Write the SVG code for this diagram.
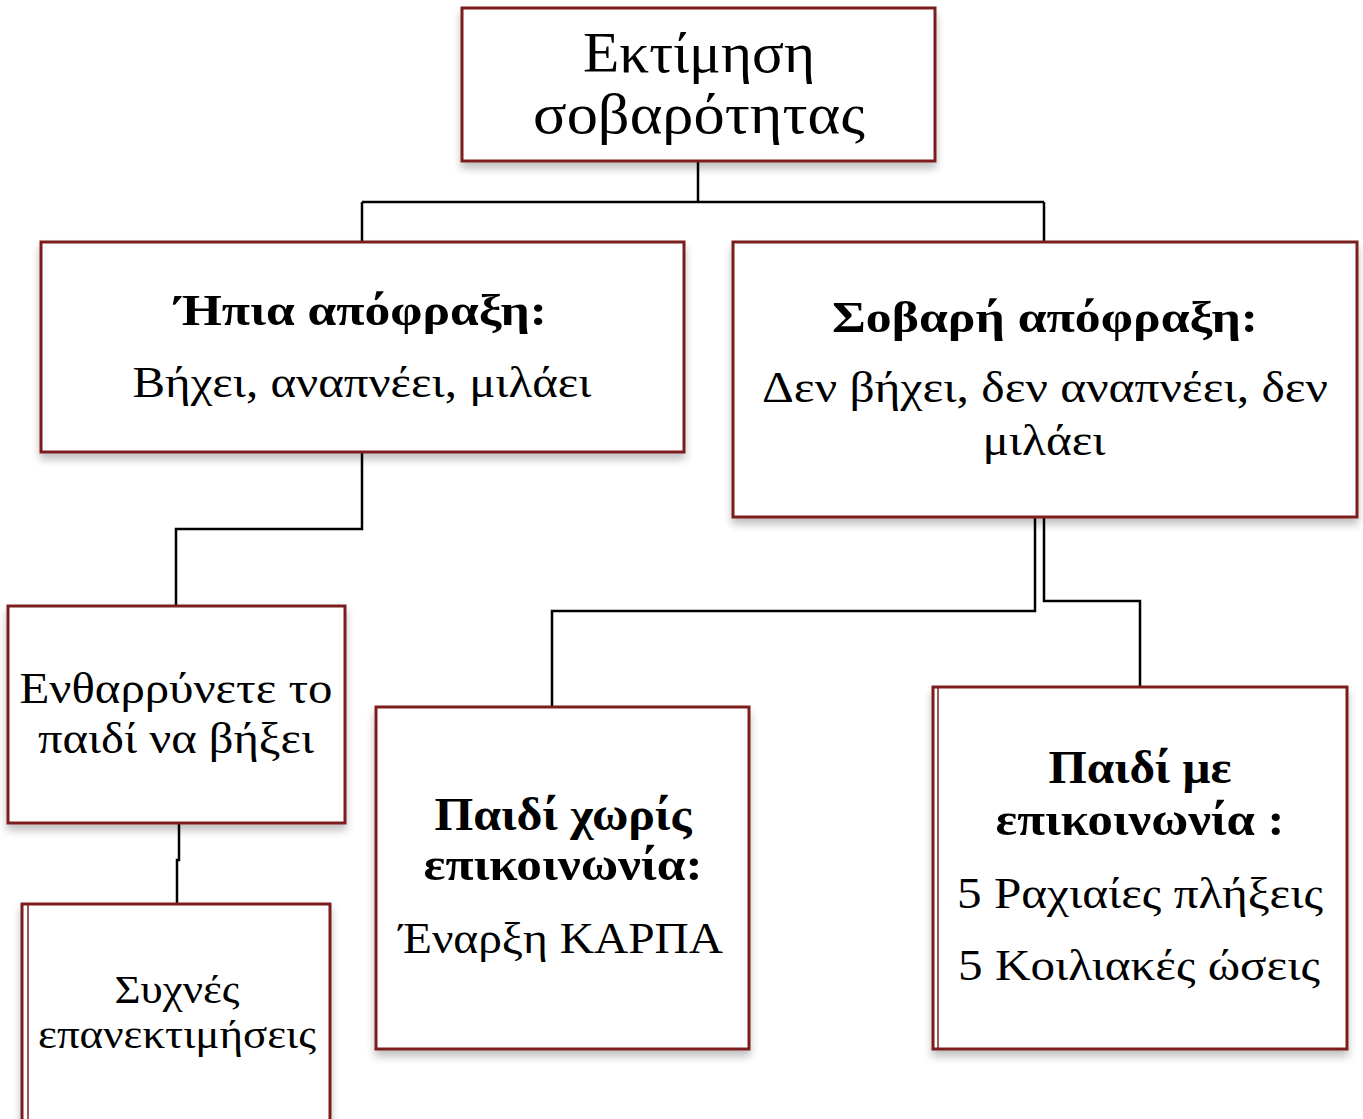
<svg xmlns="http://www.w3.org/2000/svg" width="1363" height="1119" viewBox="0 0 1363 1119">
<defs>
<filter id="sh" x="-5%" y="-5%" width="110%" height="115%">
<feGaussianBlur in="SourceAlpha" stdDeviation="4"/>
<feOffset dx="0" dy="6" result="b"/>
<feComponentTransfer><feFuncA type="linear" slope="0.25"/></feComponentTransfer>
<feMerge><feMergeNode/><feMergeNode in="SourceGraphic"/></feMerge>
</filter>
</defs>
<style>
.box{fill:#fff;stroke:#7b1f1f;stroke-width:3;filter:url(#sh)}
.in{fill:none;stroke:#7b1f1f;stroke-width:1.5}
.t{font-family:"Liberation Serif","DejaVu Serif",serif;fill:#000;text-anchor:middle}
.b{font-weight:bold}
.c{fill:none;stroke:#000;stroke-width:2.5}
</style>
<rect width="1363" height="1119" fill="#fff"/>
<g id="connectors">
<path class="c" d="M698,161V202M362,202H1044M362,202V242M1044,202V242"/>
<path class="c" d="M362,452V529H176V606"/>
<path class="c" d="M179,823V860H177V904"/>
<path class="c" d="M1035,517V611H552V707"/>
<path class="c" d="M1044,517V601H1140V687"/>
</g>
<g id="n-top">
<rect class="box" x="462" y="8" width="473" height="153"/>
<text class="t" x="699" y="72" font-size="58" textLength="232" lengthAdjust="spacingAndGlyphs">Εκτίμηση</text>
<text class="t" x="699" y="133" font-size="58" textLength="332" lengthAdjust="spacingAndGlyphs">σοβαρότητας</text>
</g>
<g id="n-mild">
<rect class="box" x="41" y="242" width="643" height="210"/>
<text class="t b" x="361" y="325" font-size="45" textLength="372" lengthAdjust="spacingAndGlyphs">Ήπια απόφραξη:</text>
<text class="t" x="362" y="397" font-size="44" textLength="459" lengthAdjust="spacingAndGlyphs">Βήχει, αναπνέει, μιλάει</text>
</g>
<g id="n-severe">
<rect class="box" x="733" y="242" width="624" height="275"/>
<text class="t b" x="1045" y="332" font-size="45" textLength="426" lengthAdjust="spacingAndGlyphs">Σοβαρή απόφραξη:</text>
<text class="t" x="1045" y="402" font-size="44" textLength="566" lengthAdjust="spacingAndGlyphs">Δεν βήχει, δεν αναπνέει, δεν</text>
<text class="t" x="1044" y="455" font-size="44" textLength="123" lengthAdjust="spacingAndGlyphs">μιλάει</text>
</g>
<g id="n-encourage">
<rect class="box" x="8" y="606" width="337" height="217"/>
<text class="t" x="176" y="703" font-size="44" textLength="313" lengthAdjust="spacingAndGlyphs">Ενθαρρύνετε το</text>
<text class="t" x="176" y="753" font-size="44" textLength="276" lengthAdjust="spacingAndGlyphs">παιδί να βήξει</text>
</g>
<g id="n-frequent">
<rect class="box" x="22" y="904" width="308" height="218"/>
<line class="in" x1="28" y1="904" x2="28" y2="1119"/>
<text class="t" x="177" y="1003" font-size="41" textLength="125" lengthAdjust="spacingAndGlyphs">Συχνές</text>
<text class="t" x="177" y="1048" font-size="41" textLength="278" lengthAdjust="spacingAndGlyphs">επανεκτιμήσεις</text>
</g>
<g id="n-nocomm">
<rect class="box" x="376" y="707" width="373" height="342"/>
<text class="t b" x="563" y="830" font-size="46" textLength="257" lengthAdjust="spacingAndGlyphs">Παιδί χωρίς</text>
<text class="t b" x="563" y="880" font-size="46" textLength="279" lengthAdjust="spacingAndGlyphs">επικοινωνία:</text>
<text class="t" x="561" y="953" font-size="44" textLength="324" lengthAdjust="spacingAndGlyphs">Έναρξη ΚΑΡΠΑ</text>
</g>
<g id="n-comm">
<rect class="box" x="933" y="687" width="414" height="362"/>
<line class="in" x1="938" y1="687" x2="938" y2="1049"/>
<text class="t b" x="1140" y="783" font-size="46" textLength="183" lengthAdjust="spacingAndGlyphs">Παιδί με</text>
<text class="t b" x="1140" y="835" font-size="46" textLength="289" lengthAdjust="spacingAndGlyphs">επικοινωνία :</text>
<text class="t" x="1140" y="908" font-size="44" textLength="366" lengthAdjust="spacingAndGlyphs">5 Ραχιαίες πλήξεις</text>
<text class="t" x="1139" y="980" font-size="44" textLength="362" lengthAdjust="spacingAndGlyphs">5 Κοιλιακές ώσεις</text>
</g>
</svg>
